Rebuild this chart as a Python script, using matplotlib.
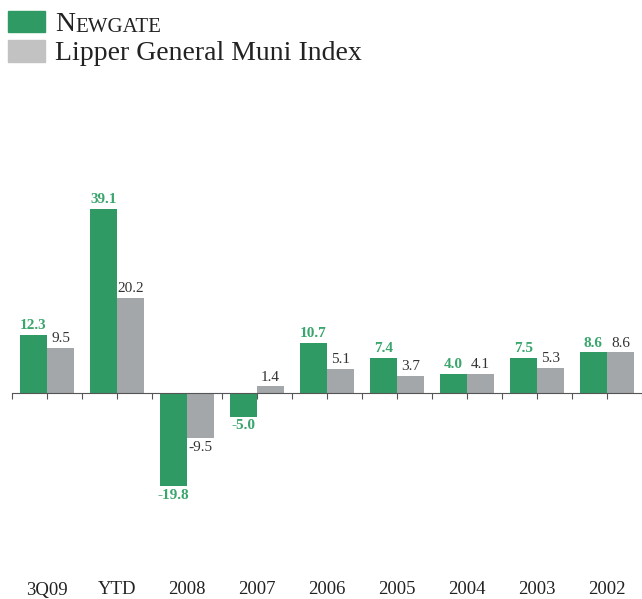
import numpy as np
import matplotlib.pyplot as plt
import matplotlib.transforms as mtransforms
from matplotlib.patches import Rectangle

plt.rcParams['font.family'] = ['Liberation Serif', 'DejaVu Serif']

categories = ['3Q09', 'YTD', '2008', '2007', '2006', '2005', '2004', '2003', '2002']
newgate = [12.3, 39.1, -19.8, -5.0, 10.7, 7.4, 4.0, 7.5, 8.6]
lipper = [9.5, 20.2, -9.5, 1.4, 5.1, 3.7, 4.1, 5.3, 8.6]

green = '#2f9a63'
gray = '#a4a7aa'

fig = plt.figure(figsize=(6.42, 5.99), dpi=100)
ax = fig.add_axes([12 / 642, 0.065, 1 - 12 / 642, 0.768])

x = np.arange(len(categories))
w = 0.386
b1 = ax.bar(x - w / 2, newgate, w, color=green, zorder=2)
b2 = ax.bar(x + w / 2, lipper, w, color=gray, zorder=2)

ax.bar_label(b1, labels=['%.1f' % v for v in newgate], padding=2,
             color='#3aa56c', fontsize=11, fontweight='bold')
ax.bar_label(b2, labels=['%.1f' % v for v in lipper], padding=2,
             color='#333333', fontsize=11)

ax.set_xlim(-0.5, 8.5)
ax.set_ylim(-35.4, 62.1)

for s in ['top', 'right', 'left']:
    ax.spines[s].set_visible(False)
ax.spines['bottom'].set_position(('data', 0))
ax.spines['bottom'].set_color('#555555')
ax.set_yticks([])
ax.set_xticks(np.arange(-0.5, 8.6, 0.5))
ax.set_xticklabels([])
ax.tick_params(axis='x', direction='out', length=4, color='#555555')

tr = mtransforms.blended_transform_factory(ax.transData, fig.transFigure)
for i, c in enumerate(categories):
    ax.text(i, 1 - 590 / 599, c, transform=tr, ha='center', va='center',
            fontsize=13.5, color='#222222')

# legend
fig.patches.append(Rectangle((8 / 642, 1 - 32 / 599), 37 / 642, 21 / 599,
                             transform=fig.transFigure, color=green))
fig.patches.append(Rectangle((8 / 642, 1 - 62 / 599), 37 / 642, 22 / 599,
                             transform=fig.transFigure, color='#c2c2c2'))
t = fig.text(55 / 642, 1 - 31 / 599, 'N', fontsize=20, color='#222222', va='baseline')
ax.annotate('EWGATE', xy=(1, 0), xycoords=t, fontsize=15, color='#222222',
            va='bottom', annotation_clip=False)
fig.text(55 / 642, 1 - 60 / 599, 'Lipper General Muni Index', fontsize=20,
         color='#222222', va='baseline')

fig.savefig('out.png', dpi=100)
